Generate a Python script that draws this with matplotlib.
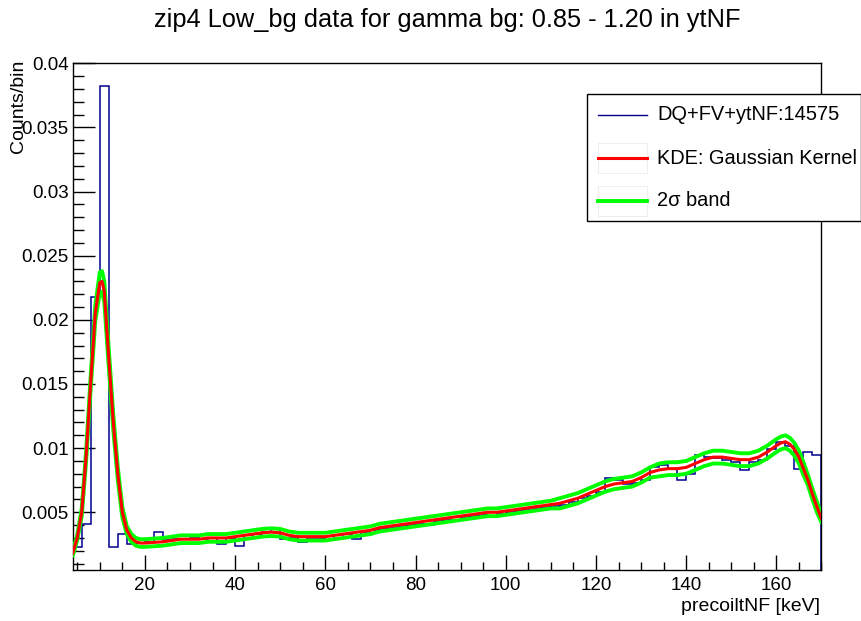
import matplotlib
matplotlib.use("Agg")
import matplotlib.pyplot as plt
from matplotlib.lines import Line2D
from matplotlib.patches import Rectangle
from matplotlib.ticker import MultipleLocator
import numpy as np

plt.rcParams['font.family'] = ['Liberation Sans', 'DejaVu Sans']

# ---------------- data ----------------
bin_edges = list(range(4, 172, 2))  # 4 .. 170 keV, 2 keV bins
hist_counts = [
    0.0023, 0.0041, 0.0218, 0.0382, 0.0023, 0.0033, 0.0025, 0.0026,   # 4-20
    0.0027, 0.0035, 0.0028, 0.0029, 0.0029, 0.0030, 0.0029, 0.0030,   # 20-36
    0.0025, 0.0030, 0.0024, 0.0032, 0.0033, 0.0035, 0.0038, 0.0029,   # 36-52
    0.0030, 0.0027, 0.0030, 0.0030, 0.0028, 0.0032, 0.0033, 0.0029,   # 52-68
    0.0035, 0.0036, 0.0037, 0.0038, 0.0039, 0.0040, 0.0041, 0.0040,   # 68-84
    0.0043, 0.0044, 0.0044, 0.0046, 0.0047, 0.0048, 0.0047, 0.0049,   # 84-100
    0.0050, 0.0051, 0.0052, 0.0053, 0.0054, 0.0055, 0.0056, 0.0058,   # 100-116
    0.0061, 0.0063, 0.0066, 0.0077, 0.0075, 0.0072, 0.0073, 0.0075,   # 116-132
    0.0085, 0.0087, 0.0084, 0.0075, 0.0080, 0.0095, 0.0093, 0.0092,   # 132-148
    0.0091, 0.0089, 0.0083, 0.0089, 0.0091, 0.0099, 0.0105, 0.0102,   # 148-164
    0.0084, 0.0097, 0.0095,                                           # 164-170
]

kde_x = [4, 5, 6, 7, 8, 9, 10, 10.5, 11, 12, 13, 14, 15, 16, 17, 18, 19, 20,
         22, 24, 26, 28, 30, 32, 34, 36, 38, 40, 42, 44, 46, 48, 50, 52, 54,
         56, 58, 60, 62, 64, 66, 68, 70, 72, 74, 76, 78, 80, 82, 84, 86, 88,
         90, 92, 94, 96, 98, 100, 102, 104, 106, 108, 110, 112, 114, 116, 118,
         120, 122, 124, 126, 128, 130, 132, 134, 136, 138, 140, 142, 144, 146,
         148, 150, 152, 154, 156, 158, 160, 161, 162, 163, 164, 165, 166, 167,
         168, 169, 170]
kde_y = [0.0018, 0.0030, 0.0050, 0.0095, 0.0152, 0.0205, 0.0229, 0.0230,
         0.0222, 0.0170, 0.0120, 0.0080, 0.0050, 0.0036, 0.0030, 0.0027,
         0.0026, 0.0026,
         0.00265, 0.0027, 0.0028, 0.0029, 0.0029, 0.0029, 0.0030, 0.0030,
         0.0030, 0.0031, 0.0032, 0.0033, 0.0034, 0.00345, 0.0034, 0.0032,
         0.0031, 0.0031, 0.0031, 0.0031, 0.0032, 0.0033, 0.0034, 0.0035,
         0.0036, 0.0038, 0.0039, 0.0040, 0.0041, 0.0042, 0.0043, 0.0044,
         0.0045, 0.0046, 0.0047, 0.0048, 0.0049, 0.0050, 0.0050, 0.0051,
         0.0052, 0.0053, 0.0054, 0.0055, 0.0056, 0.0057, 0.0059, 0.0061,
         0.0064, 0.0067, 0.0070, 0.0072, 0.0073, 0.0074, 0.0077, 0.0081,
         0.0083, 0.0084, 0.0084, 0.0085, 0.0088, 0.0091, 0.0093, 0.0093,
         0.0092, 0.0091, 0.0091, 0.0093, 0.0097, 0.0102, 0.0104, 0.0105,
         0.0103, 0.0099, 0.0093, 0.0084, 0.0075, 0.0064, 0.0054, 0.0045]
# half width of the 2-sigma band read at the same points
band_hw = [0.0002, 0.0002, 0.0003, 0.0004, 0.0005, 0.0006, 0.0008, 0.0008,
           0.0008, 0.0007, 0.0006, 0.0005, 0.0004, 0.0003, 0.0003, 0.0003,
           0.0003, 0.0003,
           0.0003, 0.0003, 0.0003, 0.0003, 0.0003, 0.0003, 0.0003, 0.0003,
           0.0003, 0.0003, 0.0003, 0.0003, 0.0003, 0.0003, 0.0003, 0.0003,
           0.0003, 0.0003, 0.0003, 0.0003, 0.0003, 0.0003, 0.0003, 0.0003,
           0.0003, 0.0003, 0.0003, 0.0003, 0.0003, 0.0003, 0.0003, 0.0003,
           0.0003, 0.0003, 0.0003, 0.0003, 0.0003, 0.0003, 0.0003, 0.0003,
           0.0003, 0.0003, 0.0003, 0.0003, 0.0003, 0.0004, 0.0004, 0.0004,
           0.0004, 0.0004, 0.0004, 0.0004, 0.0004, 0.0004, 0.0004, 0.0004,
           0.0005, 0.0005, 0.0005, 0.0005, 0.0005, 0.0005, 0.0005, 0.0005,
           0.0005, 0.0005, 0.0005, 0.0005, 0.0005, 0.0005, 0.0005, 0.0005,
           0.0005, 0.0005, 0.0005, 0.0005, 0.0004, 0.0004, 0.0004, 0.0003]

title = "zip4 Low_bg data for gamma bg: 0.85 - 1.20 in ytNF"
xlabel = "precoiltNF [keV]"
ylabel = "Counts/bin"
legend_labels = ["DQ+FV+ytNF:14575", "KDE: Gaussian Kernel", "2\u03c3 band"]

# ---------------- figure ----------------
W, H = 862, 621
fig = plt.figure(figsize=(W / 100, H / 100), dpi=100)
ax = fig.add_axes([72.7 / W, 1 - 570 / H, (821.5 - 72.7) / W, (570 - 63.3) / H])

kx = np.array(kde_x)
ky = np.array(kde_y)
hw = np.array(band_hw)

ax.stairs(hist_counts, bin_edges, color='#00008f', lw=1.1, zorder=2)
ax.plot(kx, ky + hw, color='#00ff00', lw=2.8, zorder=3, solid_capstyle='round')
ax.plot(kx, ky - hw, color='#00ff00', lw=2.8, zorder=3, solid_capstyle='round')
ax.plot(kx, ky, color='#ff0000', lw=2.2, zorder=4)

ax.set_xlim(4, 170)
ax.set_ylim(0.0005, 0.04)

ax.xaxis.set_major_locator(MultipleLocator(20))
ax.xaxis.set_minor_locator(MultipleLocator(5))
ax.yaxis.set_major_locator(MultipleLocator(0.005))
ax.yaxis.set_minor_locator(MultipleLocator(0.001))

ax.set_xticks([20, 40, 60, 80, 100, 120, 140, 160])
ax.set_xticklabels(['20', '40', '60', '80', '100', '120', '140', '160'])
yt = [0.005, 0.01, 0.015, 0.02, 0.025, 0.03, 0.035, 0.04]
ax.set_yticks(yt)
ax.set_yticklabels(['0.005', '0.01', '0.015', '0.02', '0.025', '0.03', '0.035', '0.04'])

ax.tick_params(axis='both', which='both', direction='in', top=False, right=False,
               labelsize=13.5, colors='black', width=1)
ax.tick_params(axis='x', which='major', length=11, pad=5)
ax.tick_params(axis='x', which='minor', length=5.5)
ax.tick_params(axis='y', which='major', length=16, pad=3)
ax.tick_params(axis='y', which='minor', length=8)
for s in ax.spines.values():
    s.set_linewidth(1)
    s.set_color('black')

fig.text(447 / W, 1 - 27 / H, title, ha='center', va='baseline', fontsize=18.3)
fig.text(820 / W, 1 - 611 / H, xlabel, ha='right', va='baseline', fontsize=14)
fig.text(19 / W, 1 - 60 / H, ylabel, ha='center', va='top', rotation=90, fontsize=14)

# legend box (ROOT style)
lx0, lx1, ly0, ly1 = 587 / W, 861.5 / W, 1 - 221 / H, 1 - 94 / H
fig.patches.append(Rectangle((lx0, ly0), lx1 - lx0, ly1 - ly0, transform=fig.transFigure,
                             facecolor='white', edgecolor='black', lw=1, zorder=10))
entry_y = [115, 158, 200.5]
styles = [('#00008f', 1.0), ('#ff0000', 2.2), ('#00ff00', 2.8)]
for i, (lab, yy, (c, lw)) in enumerate(zip(legend_labels, entry_y, styles)):
    if i > 0:
        fig.patches.append(Rectangle((598 / W, 1 - (yy + 15) / H), 49 / W, 30 / H,
                                     transform=fig.transFigure, facecolor='white',
                                     edgecolor='#eeeeee', lw=0.8, zorder=11))
    fig.lines.append(Line2D([598 / W, 647 / W], [1 - yy / H, 1 - yy / H],
                            transform=fig.transFigure, color=c, lw=lw, zorder=12))
    fig.text(657 / W, 1 - yy / H, lab, ha='left', va='center', fontsize=14.4, zorder=12)

fig.savefig('out.png', dpi=100)
